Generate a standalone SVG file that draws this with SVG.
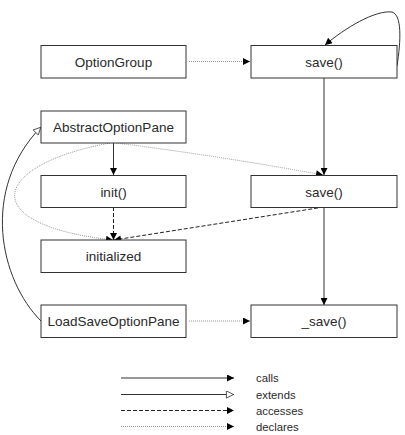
<svg xmlns="http://www.w3.org/2000/svg" width="405" height="435" viewBox="0 0 405 435">
<defs>
<marker id="fill" viewBox="0 0 10 10" refX="10" refY="5" markerWidth="9" markerHeight="7" markerUnits="userSpaceOnUse" orient="auto">
<path d="M0,0 L10,5 L0,10 Z" fill="#000"/>
</marker>
<marker id="hollow" viewBox="0 0 10 10" refX="10" refY="5" markerWidth="10" markerHeight="8" markerUnits="userSpaceOnUse" orient="auto">
<path d="M0.5,0.5 L9.5,5 L0.5,9.5 Z" fill="#fff" stroke="#333" stroke-width="1"/>
</marker>
</defs>
<style>
.box{fill:#fff;stroke:#333;stroke-width:1}
.lbl{font-family:"Liberation Sans",Arial,sans-serif;font-size:13.5px;fill:#2a2a2a;text-anchor:middle}
.leg{font-family:"Liberation Sans",Arial,sans-serif;font-size:11.3px;fill:#2a2a2a}
.calls{fill:none;stroke:#333;stroke-width:1;marker-end:url(#fill)}
.ext{fill:none;stroke:#333;stroke-width:1;marker-end:url(#hollow)}
.acc{fill:none;stroke:#222;stroke-width:1;stroke-dasharray:4,2;marker-end:url(#fill)}
.dec{fill:none;stroke:#999;stroke-width:1;stroke-dasharray:1,1;marker-end:url(#fill)}
</style>
<rect width="405" height="435" fill="#fff"/>
<g id="connectors">
<path class="dec" d="M189,61.5 L250,61.5"/>
<path class="calls" d="M397,66 C401,40 402,15 392,12 C375,10 345,28 325,45"/>
<path class="calls" d="M324,78 L324,175"/>
<path class="calls" d="M324,207 L324,305"/>
<path class="calls" d="M113.5,143 L113.5,175"/>
<path class="acc" d="M113.5,207 L113.5,240"/>
<path class="acc" d="M324,207 L114,240"/>
<path class="dec" d="M116,143 Q220,156 323,175"/>
<path class="dec" d="M110,143 C-10,165 -25,225 113,240"/>
<path class="ext" d="M41,321 C0,280 -20,190 41,127"/>
<path class="dec" d="M189,321 L250,321"/>
</g>
<g id="OptionGroup"><rect class="box" x="41" y="45.5" width="145" height="32.5"/><text class="lbl" x="113.5" y="66.5">OptionGroup</text></g>
<g id="save1"><rect class="box" x="251" y="45.5" width="146" height="32.5"/><text class="lbl" x="324" y="66.5">save()</text></g>
<g id="AbstractOptionPane"><rect class="box" x="41" y="111" width="145" height="32"/><text class="lbl" x="113.5" y="132">AbstractOptionPane</text></g>
<g id="init"><rect class="box" x="41" y="175.5" width="145" height="32"/><text class="lbl" x="113.5" y="196.5">init()</text></g>
<g id="save2"><rect class="box" x="251" y="175.5" width="146" height="32"/><text class="lbl" x="324" y="196.5">save()</text></g>
<g id="initialized"><rect class="box" x="41" y="240" width="145" height="32.5"/><text class="lbl" x="113.5" y="261">initialized</text></g>
<g id="LoadSaveOptionPane"><rect class="box" x="41" y="305" width="145" height="32.5"/><text class="lbl" x="113.5" y="326">LoadSaveOptionPane</text></g>
<g id="_save"><rect class="box" x="251" y="305" width="146" height="32.5"/><text class="lbl" x="324" y="326">_save()</text></g>
<g id="legend">
<path class="calls" d="M121,378 L234,378"/>
<path class="ext" d="M121,394.5 L234,394.5"/>
<path class="acc" d="M121,410.5 L234,410.5"/>
<path class="dec" d="M121,426.5 L234,426.5"/>
<text class="leg" x="256" y="382">calls</text>
<text class="leg" x="256" y="398.5">extends</text>
<text class="leg" x="256" y="414.5">accesses</text>
<text class="leg" x="256" y="430.5">declares</text>
</g>
</svg>
